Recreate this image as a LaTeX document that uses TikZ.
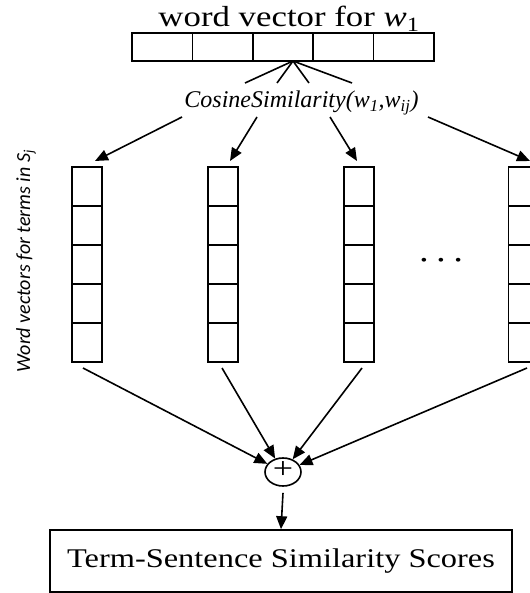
\documentclass[tikz,border=0pt]{standalone}
\usepackage{fontspec}
\setmainfont{Liberation Serif}[FakeStretch=1.2]
\newfontfamily\cosfont{Liberation Serif}
\newfontfamily\sidefont{Carlito}
\usetikzlibrary{positioning,calc,arrows.meta,shapes.geometric}
\newcommand{\vcell}[3]{\node [vcell] (#1) at (#2) {#3}}

\tikzset{
  hcell/.style={draw, minimum width=60.4pt, minimum height=28pt, inner sep=0pt, outer sep=0pt},
  vcell/.style={draw, minimum width=30pt, minimum height=39pt, inner sep=0pt, outer sep=0pt},
}

\begin{document}
\begin{tikzpicture}[x=1pt, y=-1pt, line width=1.6pt, >={Triangle[length=13pt,width=11pt]}]
\useasboundingbox (0,0) rectangle (529,593);

\node [anchor=base] (title) at (289,27) {\fontsize{29}{29}\selectfont word vector for \textit{w}\textsubscript{1}};

% word vector for w1
\node [hcell] (t1) at (162.2,47) {};
\node [hcell, right=0pt of t1] (t2) {};
\node [hcell, right=0pt of t2] (t3) {};
\node [hcell, right=0pt of t3] (t4) {};
\node [hcell, right=0pt of t4] (t5) {};

\node [anchor=base] (cos) at (301.5,108) {\cosfont\fontsize{24}{24}\selectfont\itshape CosineSimilarity(w\textsubscript{1},w\textsubscript{ij})};

\coordinate (apex) at ([xshift=10pt]t3.south);
\coordinate (f1) at (245,83);
\coordinate (f2) at (277,83);
\coordinate (f3) at (309,83);
\coordinate (f4) at (352,83);
\foreach \f in {f1,f2,f3,f4}
  \draw (apex) -- (\f);

% term vectors
\foreach \c/\x in {1/87,2/223,3/359,4/523.5}
  \foreach \r in {1,...,5}
    \vcell{c\c-\r}{\x,{147.5+39*\r}}{};

\node [rotate=90] (side) at (26,261) {\sidefont\itshape\fontsize{20}{20}\selectfont Word vectors for terms in S\textsubscript{j}};
\node (dots) at (441,262) {\fontsize{16}{16}\selectfont\textbullet\hspace{10.4pt}\textbullet\hspace{10.4pt}\textbullet};

\coordinate (s1) at (182,117);
\coordinate (s2) at (257,117);
\coordinate (s3) at (330,117);
\coordinate (s4) at (428,117);
\draw[->] (s1) -- ([xshift=8pt,yshift=6pt]c1-1.north);
\draw[->] (s2) -- ([xshift=7pt,yshift=6pt]c2-1.north);
\draw[->] (s3) -- ([xshift=-2pt,yshift=6pt]c3-1.north);
\draw[->] (s4) -- ([xshift=6.5pt,yshift=6pt]c4-1.north);

\node [draw, ellipse, minimum width=36pt, minimum height=28pt, inner sep=0pt] (plus) at (283,472)
  {\fontsize{30}{30}\selectfont\raisebox{-0.23em}[0pt][0pt]{\makebox[0pt]{+}}};

\draw[->] ([xshift=-4pt,yshift=-6pt]c1-5.south) -- (plus);
\draw[->] ([xshift=-1pt,yshift=-6pt]c2-5.south) -- (plus);
\draw[->] ([xshift=3pt,yshift=-6pt]c3-5.south) -- (plus);
\draw[->] ([xshift=3.5pt,yshift=-6pt]c4-5.south) -- (plus);

\node [draw, minimum width=462pt, minimum height=62pt] (score) at (281,561) {\fontsize{27}{27}\selectfont Term-Sentence Similarity Scores};

\draw[->] ([yshift=-6pt]plus.south) -- (score.north);
\end{tikzpicture}
\end{document}
